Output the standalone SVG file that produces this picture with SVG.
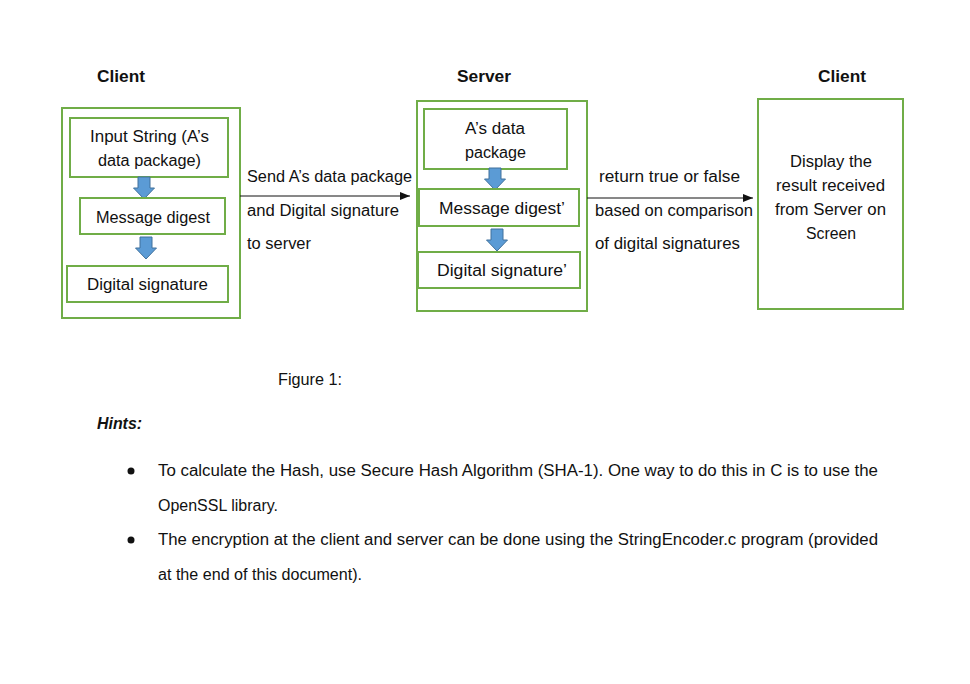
<svg xmlns="http://www.w3.org/2000/svg" width="970" height="684" viewBox="0 0 970 684">
<style>
text{font-family:"Liberation Sans",Arial,sans-serif;font-size:16px;fill:#111}
.c{text-anchor:middle}
.b{font-weight:bold}
.box{fill:#fff;stroke:#70ad47;stroke-width:2}
.blk{fill:#5b9bd5;stroke:#41719c;stroke-width:1}
.conn{stroke:#111;stroke-width:1;fill:none}
</style>
<defs>
<marker id="ah" markerWidth="10" markerHeight="8" refX="10" refY="4" orient="auto" markerUnits="userSpaceOnUse">
<path d="M0,0 L10,4 L0,8 Z" fill="#111"/>
</marker>
<path id="darr" d="M-6,0 H6 V11 H10.5 L0,22 L-10.5,11 H-6 Z"/>
</defs>
<rect width="970" height="684" fill="#fff"/>

<g id="headers">
<text class="b" x="97" y="82" textLength="48" lengthAdjust="spacingAndGlyphs">Client</text>
<text class="b" x="457" y="82" textLength="54" lengthAdjust="spacingAndGlyphs">Server</text>
<text class="b" x="818" y="82" textLength="48" lengthAdjust="spacingAndGlyphs">Client</text>
</g>

<g id="client-left">
<rect class="box" x="62" y="108" width="178" height="210"/>
<g id="input-string">
<rect class="box" x="70" y="118" width="158" height="59"/>
<text x="90" y="142" textLength="119" lengthAdjust="spacingAndGlyphs">Input String (A’s</text>
<text x="98" y="166" textLength="103" lengthAdjust="spacingAndGlyphs">data package)</text>
</g>
<use href="#darr" class="blk" x="144" y="177"/>
<g id="message-digest">
<rect class="box" x="80" y="198" width="145" height="36"/>
<text x="96" y="223" textLength="114" lengthAdjust="spacingAndGlyphs">Message digest</text>
</g>
<use href="#darr" class="blk" x="146" y="237"/>
<g id="digital-signature">
<rect class="box" x="67" y="266" width="161" height="36"/>
<text x="87" y="290" textLength="121" lengthAdjust="spacingAndGlyphs">Digital signature</text>
</g>
</g>

<g id="server">
<rect class="box" x="417" y="101" width="170" height="210"/>
<g id="server-data">
<rect class="box" x="424" y="109" width="143" height="60"/>
<text x="465" y="134" textLength="60" lengthAdjust="spacingAndGlyphs">A’s data</text>
<text x="465" y="158" textLength="61" lengthAdjust="spacingAndGlyphs">package</text>
</g>
<use href="#darr" class="blk" x="495" y="168"/>
<g id="server-digest">
<rect class="box" x="419" y="189" width="160" height="37"/>
<text x="439" y="214" textLength="126" lengthAdjust="spacingAndGlyphs">Message digest’</text>
</g>
<use href="#darr" class="blk" x="497" y="229"/>
<g id="server-signature">
<rect class="box" x="418" y="252" width="162" height="36"/>
<text x="437" y="276" textLength="130" lengthAdjust="spacingAndGlyphs">Digital signature’</text>
</g>
</g>

<g id="client-right">
<rect class="box" x="758" y="99" width="145" height="210"/>
<text x="790" y="167" textLength="82" lengthAdjust="spacingAndGlyphs">Display the</text>
<text x="776" y="191" textLength="109" lengthAdjust="spacingAndGlyphs">result received</text>
<text x="775" y="215" textLength="111" lengthAdjust="spacingAndGlyphs">from Server on</text>
<text x="806" y="239" textLength="50" lengthAdjust="spacingAndGlyphs">Screen</text>
</g>

<g id="connectors">
<line class="conn" x1="240" y1="196" x2="410" y2="196" marker-end="url(#ah)"/>
<text x="247" y="182" textLength="165" lengthAdjust="spacingAndGlyphs">Send A’s data package</text>
<text x="247" y="216" textLength="152" lengthAdjust="spacingAndGlyphs">and Digital signature</text>
<text x="247" y="249" textLength="64" lengthAdjust="spacingAndGlyphs">to server</text>
<line class="conn" x1="587" y1="198" x2="753" y2="198" marker-end="url(#ah)"/>
<text x="599" y="182" textLength="141" lengthAdjust="spacingAndGlyphs">return true or false</text>
<text x="595" y="216" textLength="158" lengthAdjust="spacingAndGlyphs">based on comparison</text>
<text x="595" y="249" textLength="145" lengthAdjust="spacingAndGlyphs">of digital signatures</text>
</g>

<g id="caption">
<text x="278" y="385" textLength="64" lengthAdjust="spacingAndGlyphs">Figure 1:</text>
<text class="b" x="97" y="429" font-style="italic" textLength="45" lengthAdjust="spacingAndGlyphs">Hints:</text>
<circle cx="131" cy="471" r="3.5" fill="#111"/>
<text x="158" y="476" textLength="720" lengthAdjust="spacingAndGlyphs">To calculate the Hash, use Secure Hash Algorithm (SHA-1). One way to do this in C is to use the</text>
<text x="158" y="511" textLength="120" lengthAdjust="spacingAndGlyphs">OpenSSL library.</text>
<circle cx="131" cy="540" r="3.5" fill="#111"/>
<text x="158" y="545" textLength="720" lengthAdjust="spacingAndGlyphs">The encryption at the client and server can be done using the StringEncoder.c program (provided</text>
<text x="158" y="580" textLength="204" lengthAdjust="spacingAndGlyphs">at the end of this document).</text>
</g>
</svg>
